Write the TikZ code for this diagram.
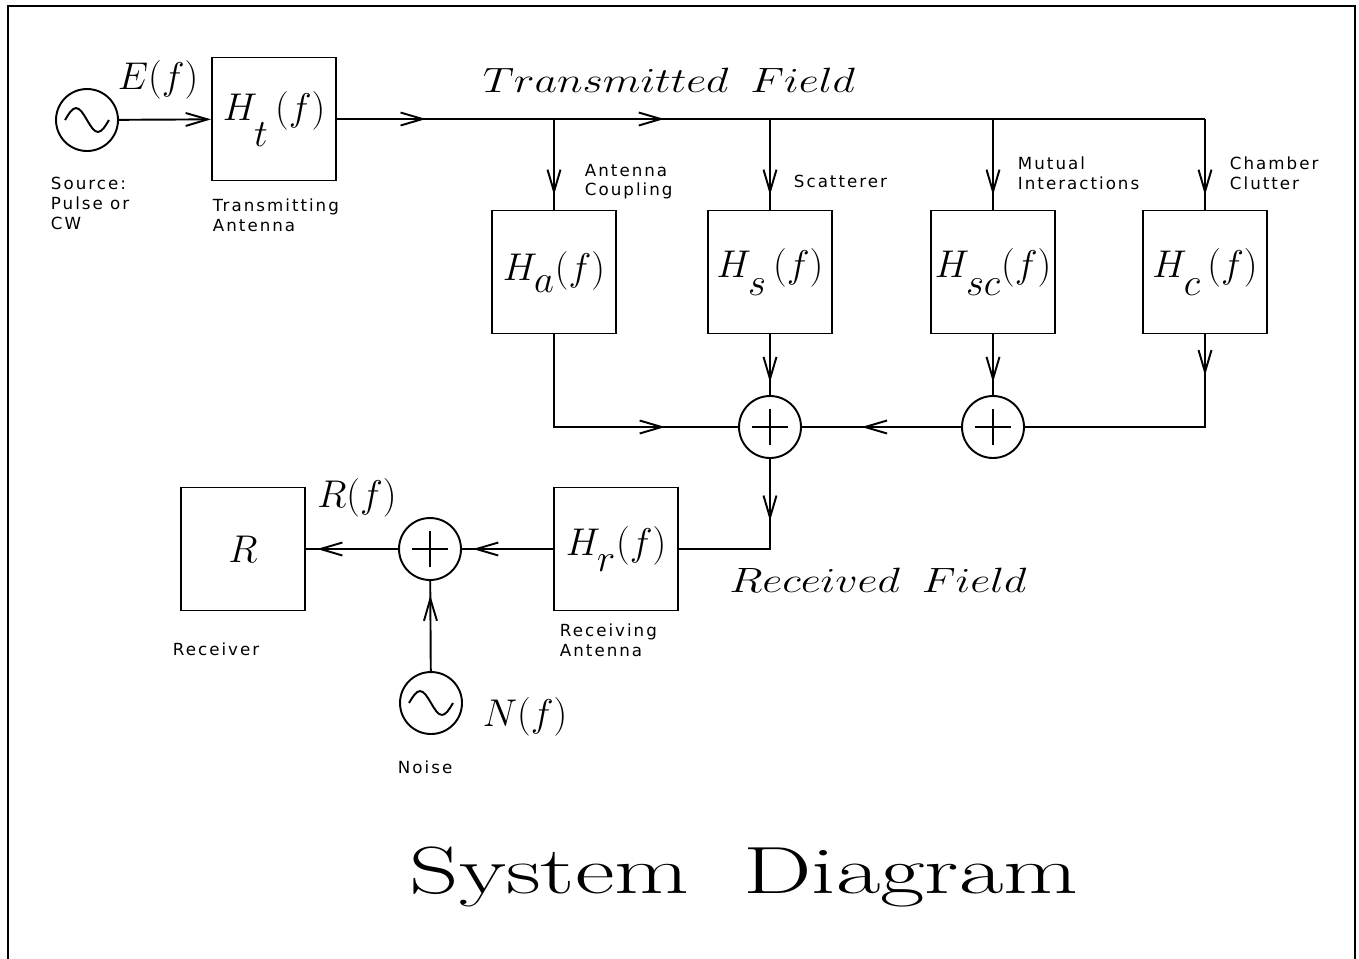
\RequirePackage{fix-cm}
\documentclass[tikz,border=0pt]{standalone}
\usepackage{fontspec}
\usepackage{graphicx}
\newfontfamily\plotfont[LetterSpace=12]{DejaVu Sans}
\usetikzlibrary{arrows.meta,decorations.markings,calc}
\newcommand{\Hsub}[2][0.3em]{H_{\raisebox{-#1}{$\textstyle #2$}}}

\begin{document}
\begin{tikzpicture}[x=0.02cm, y=-0.02cm, line width=1.1pt,
    >={Straight Barb[length=4.4mm,width=2.6mm]},
    flowat/.style={postaction={decorate},
      decoration={markings, mark=at position #1 with {\arrow{>}}}}]
  \tikzstyle{block}=[draw, minimum width=2.48cm, minimum height=2.46cm, inner sep=0pt,
    font=\fontsize{22}{26}\selectfont]
  \tikzstyle{adder}=[draw, circle, minimum size=1.24cm, inner sep=0pt,
    path picture={\draw ([xshift=-10.5pt]path picture bounding box.center) -- ([xshift=10.5pt]path picture bounding box.center)
      ([yshift=-10.5pt]path picture bounding box.center) -- ([yshift=10.5pt]path picture bounding box.center);}]
  \tikzstyle{osc}=[draw, circle, minimum size=1.24cm, inner sep=0pt,
    path picture={\draw ([xshift=-12.5pt]path picture bounding box.center)
      sin ++(6.25pt,6.8pt) cos ++(6.25pt,-6.8pt) sin ++(6.25pt,-6.8pt) cos ++(6.25pt,6.8pt);}]
  \tikzstyle{tag}=[font=\plotfont\fontsize{9.5}{11.3}\selectfont, align=left, anchor=north west, inner sep=0pt]
  \tikzstyle{sym}=[font=\fontsize{22}{26}\selectfont, inner sep=0pt]
  \tikzstyle{field}=[font=\fontsize{20}{24}\selectfont, inner sep=0pt]

  \useasboundingbox (0,0) rectangle (1359,958);
  \draw[line width=1.3pt] (8,965) -- (8,6) -- (1355,6) -- (1355,965);

  \node[osc]   (src)   at (87,120)   {};
  \node[block] (Ht)    at (274,119)  {$\Hsub[0.5em]{t}\,(f)$};
  \node[block] (Ha)    at (554,272)  {$\Hsub[0.15em]{a}(f)$};
  \node[block] (Hs)    at (770,272)  {$\Hsub{s}\,(f)$};
  \node[block] (Hsc)   at (993,272)  {$\Hsub{sc}(f)$};
  \node[block] (Hc)    at (1205,272) {$\Hsub{c}\,(f)$};
  \node[adder] (sum1)  at (770,427)  {};
  \node[adder] (sum2)  at (993,427)  {};
  \node[block] (Hr)    at (616,549)  {$\Hsub[0.25em]{r}(f)$};
  \node[adder] (sum3)  at (430,549)  {};
  \node[block] (R)     at (243,549)  {$R$};
  \node[osc]   (noise) at (431,703)  {};

  \coordinate (ta)  at (Ha |- Ht);
  \coordinate (ts)  at (Hs |- Ht);
  \coordinate (tsc) at (Hsc |- Ht);
  \coordinate (tc)  at (Hc |- Ht);

  \draw[->] (src) -- (Ht);
  \draw[flowat=0.41] (Ht) -- (ta);
  \draw[flowat=0.51] (ta) -- (ts);
  \draw (ts) -- (tc);
  \foreach \b/\t in {Ha/ta, Hs/ts, Hsc/tsc, Hc/tc}
    \draw[flowat=0.84] (\t) -- (\b);

  \draw[flowat=-1.46cm] (Ha) -- (Ha |- sum1) -- (sum1);
  \draw[flowat=0.79] (Hs) -- (sum1);
  \draw[flowat=0.79] (Hsc) -- (sum2);
  \draw[flowat=0.82cm] (Hc) -- (Hc |- sum2) -- (sum2);
  \draw[flowat=0.625] (sum2) -- (sum1);
  \draw[flowat=1.24cm] (sum1) -- (sum1 |- Hr) -- (Hr);
  \draw[flowat=0.88] (Hr) -- (sum3);
  \draw[flowat=0.88] (sum3) -- (R);
  \draw[flowat=0.84] (noise) -- (sum3);

  \node[sym] (Ef) at (158,80)  {$E(f)$};
  \node[sym] (Rf) at (357,498) {$R(f)$};
  \node[sym] (Nf) at (525,717) {$N(f)$};

  \node[field] (txfield) at (669,80)  {\scalebox{1.25}[1]{$Transmitted\hspace{10pt}Field$}};
  \node[field] (rxfield) at (878,580) {\scalebox{1.25}[1]{$Received\hspace{10pt}Field$}};

  \node[tag] (srcnote)   at (50,176)   {Source:\\Pulse or\\CW};
  \node[tag] (htnote)    at (212,198)  {Transmitting\\Antenna};
  \node[tag] (hanote)    at (584,163)  {Antenna\\Coupling};
  \node[tag] (hsnote)    at (793,174)  {Scatterer};
  \node[tag] (hscnote)   at (1017,156) {Mutual\\Interactions};
  \node[tag] (hcnote)    at (1229,156) {Chamber\\Clutter};
  \node[tag] (hrnote)    at (559,623)  {Receiving\\Antenna};
  \node[tag] (rnote)     at (172,642)  {Receiver};
  \node[tag] (noisenote) at (397,760)  {Noise};

  \node[anchor=base, inner sep=0pt, font=\fontsize{38}{46}\selectfont] (title) at (744,893)
    {\scalebox{1.45}[1]{System\hspace{0.75cm}Diagram}};
\end{tikzpicture}
\end{document}
